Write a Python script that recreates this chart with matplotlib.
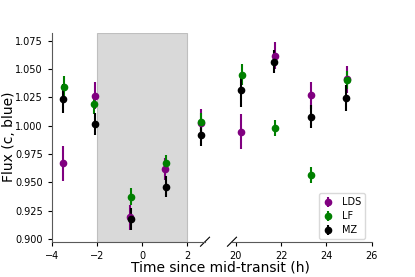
import matplotlib
matplotlib.use("Agg")
import matplotlib.pyplot as plt
import numpy as np

# Data (time since mid-transit in hours, flux)
lds_t = [-3.48, -2.10, -0.52, 1.03, 2.60, 20.25, 21.72, 23.32, 24.89]
lds_f = [0.9668, 1.0265, 0.9190, 0.9617, 1.0025, 0.9947, 1.0618, 1.0268, 1.0410]
lds_e = [0.0155, 0.0120, 0.0110, 0.0100, 0.0120, 0.0155, 0.0120, 0.0121, 0.0120]

lf_t = [-3.46, -2.12, -0.48, 1.07, 2.62, 20.27, 21.74, 23.34, 24.91]
lf_f = [1.0339, 1.0189, 0.9373, 0.9668, 1.0030, 1.0450, 0.9980, 0.9565, 1.0404]
lf_e = [0.0095, 0.0085, 0.0075, 0.0070, 0.0080, 0.0095, 0.0070, 0.0070, 0.0080]

mz_t = [-3.50, -2.10, -0.50, 1.05, 2.60, 20.22, 21.70, 23.30, 24.88]
mz_f = [1.0239, 1.0015, 0.9176, 0.9461, 0.9920, 1.0310, 1.0565, 1.0080, 1.0242]
mz_e = [0.0130, 0.0100, 0.0095, 0.0095, 0.0097, 0.0145, 0.0100, 0.0103, 0.0115]

series = [("LDS", lds_t, lds_f, lds_e, "purple"),
          ("LF", lf_t, lf_f, lf_e, "green"),
          ("MZ", mz_t, mz_f, mz_e, "black")]

yticks = [0.900, 0.925, 0.950, 0.975, 1.000, 1.025, 1.050, 1.075]
left_xticks = [-4, -2, 0, 2]
right_xticks = [20, 22, 24, 26]

fig = plt.figure(figsize=(4.15, 2.77), dpi=100)
axh = 0.7545
y0 = 0.1274
ax1 = fig.add_axes([0.1246, y0, 0.3694, axh])
ax2 = fig.add_axes([0.559, y0, 0.3366, axh])

for ax in (ax1, ax2):
    ax.axvspan(-2, 2, facecolor="0.85", edgecolor="0.75", lw=0.8, zorder=0)
    for name, t, f, e, c in series:
        ax.errorbar(t, f, yerr=e, fmt="o", color=c, ecolor=c, ms=4.5,
                    elinewidth=1.5, capsize=0, label=name)
    ax.set_ylim(0.8975, 1.082)
    ax.spines["top"].set_visible(False)
    ax.spines["right"].set_visible(False)
    ax.tick_params(labelsize=7, length=3, width=0.8)
    for sp in ax.spines.values():
        sp.set_color("0.35")

ax1.set_xlim(-4, 2.78)
ax2.set_xlim(19.83, 26)
ax1.set_xticks(left_xticks)
ax2.set_xticks(right_xticks)
ax1.set_yticks(yticks)
ax1.set_yticklabels([f"{v:.3f}" for v in yticks])
ax2.spines["left"].set_visible(False)
ax2.set_yticks([])

# break marks
def brk(ax, xa):
    w = ax.get_position().width * 415
    h = ax.get_position().height * 277
    dx = 4.5 / w
    dy = 4.5 / h
    ax.plot([xa - dx, xa + dx], [-dy, dy], transform=ax.transAxes,
            color="k", lw=0.8, clip_on=False)

brk(ax1, 1.0)
brk(ax2, 0.0)

fig.text(0.022, y0 + axh / 2, "Flux (c, blue)", rotation=90, ha="center",
         va="center", fontsize=10)
fig.text(0.53, 0.035, "Time since mid-transit (h)", ha="center", va="center",
         fontsize=10)

ax2.legend(loc="lower right", fontsize=7, bbox_to_anchor=(0.985, -0.01),
           handlelength=1.0, labelspacing=0.4, handletextpad=0.9,
           borderpad=0.4, framealpha=1, edgecolor="0.85")

fig.savefig("out.png", dpi=100)
